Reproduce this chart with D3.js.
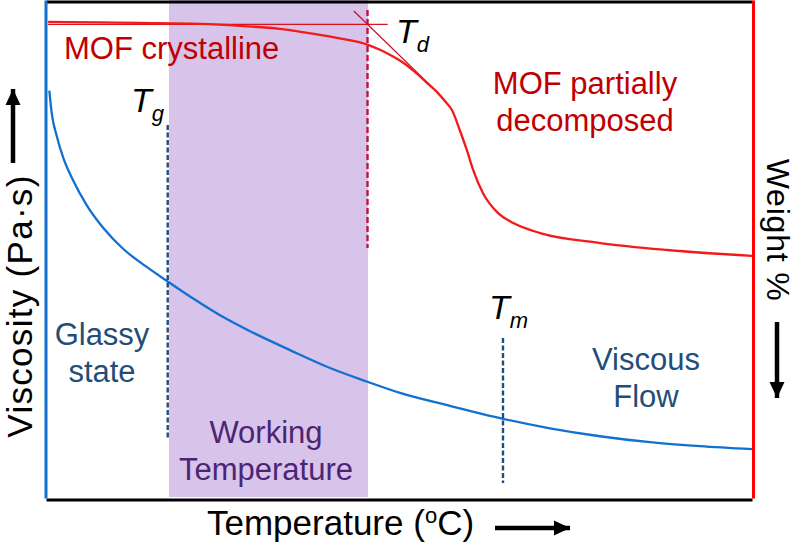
<!DOCTYPE html>
<html>
<head>
<meta charset="utf-8">
<script src="https://cdn.jsdelivr.net/npm/d3@7/dist/d3.min.js"></script>
<style>
  html, body { margin: 0; padding: 0; background: #fff; }
  svg { display: block; }
  text { font-family: "Liberation Sans", Arial, sans-serif; }
</style>
</head>
<body>
<svg id="chart" width="797" height="544"></svg>
<script>
// ---------- data (normalised temperature 0-100) ----------
const viscTemp = [0.47, 0.81, 1.52, 2.45, 3.87, 5.76, 8.12, 10.95, 14.26, 17.32, 20.68, 24.65, 28.9, 34.56, 40.23, 45.61, 50.14, 57.22, 64.73, 71.39, 78.47, 85.55, 92.63, 100];
const viscosity = [81.8, 77.3, 72.7, 68.3, 63.7, 58.8, 54.2, 50.0, 46.4, 43.4, 40.2, 36.7, 33.5, 29.7, 26.1, 23.3, 21.1, 18.5, 15.9, 14.0, 12.4, 11.2, 10.4, 9.8];

const weightTemp = [0.3, 7.7, 13.3, 21.8, 27.5, 33.1, 37.0, 41.6, 45.6, 47.3, 48.7, 50.6, 52.3, 54.0, 55.4, 56.5, 57.5, 58.6, 59.6, 60.5, 61.9, 63.9, 66.2, 70.0, 78.5, 88.0, 100];
const weight = [95.6, 95.5, 95.4, 95.2, 94.8, 94.2, 93.4, 92.3, 91.0, 90.0, 89.0, 87.4, 85.5, 83.3, 81.5, 79.7, 77.9, 73.9, 69.9, 65.9, 61.2, 57.4, 55.2, 53.2, 51.2, 49.8, 48.6];

// characteristic temperatures
const Tg = 17.24, Td = 45.54, Tm = 64.73;
const workingRange = [17.42, 45.61];
// onset construction (tangent lines) for Td
const baselineWeight = 95.1, baselineRange = [0.3, 48.4];
const tangentT = [43.6, 54.7], tangentW = [97.8, 82.5];

// ---------- scales ----------
const svg = d3.select("#chart");
const x = d3.scaleLinear().domain([0, 100]).range([46, 752]);
const yV = d3.scaleLinear().domain([0, 100]).range([498, 0]);
const yW = d3.scaleLinear().domain([0, 100]).range([498, 0]);

const RED = "#f21a1a", BLUE = "#1170d0", DASHBLUE = "#1f4e79";

// working temperature band
svg.append("rect")
  .attr("x", x(workingRange[0])).attr("y", 0)
  .attr("width", x(workingRange[1]) - x(workingRange[0]))
  .attr("height", 497)
  .attr("fill", "#d8c3ea");

// viscosity curve
const vPts = viscTemp.map((t, i) => [t, viscosity[i]]);
svg.append("path")
  .attr("d", d3.line().x(d => x(d[0])).y(d => yV(d[1])).curve(d3.curveMonotoneX)(vPts))
  .attr("fill", "none").attr("stroke", BLUE).attr("stroke-width", 2.3);

// tangent construction lines
svg.append("line")
  .attr("x1", x(baselineRange[0])).attr("x2", x(baselineRange[1]))
  .attr("y1", yW(baselineWeight)).attr("y2", yW(baselineWeight))
  .attr("stroke", "#d8121e").attr("stroke-width", 1.4);
svg.append("line")
  .attr("x1", x(tangentT[0])).attr("x2", x(tangentT[1]))
  .attr("y1", yW(tangentW[0])).attr("y2", yW(tangentW[1]))
  .attr("stroke", "#c8102e").attr("stroke-width", 1.3);

// weight curve
const wPts = weightTemp.map((t, i) => [t, weight[i]]);
svg.append("path")
  .attr("d", d3.line().x(d => x(d[0])).y(d => yW(d[1])).curve(d3.curveMonotoneX)(wPts))
  .attr("fill", "none").attr("stroke", RED).attr("stroke-width", 2.3);

// dashed markers
svg.append("line")
  .attr("x1", x(Tg)).attr("x2", x(Tg)).attr("y1", 125).attr("y2", 440)
  .attr("stroke", DASHBLUE).attr("stroke-width", 2.4).attr("stroke-dasharray", "5,2.5");
svg.append("line")
  .attr("x1", x(Tm)).attr("x2", x(Tm)).attr("y1", 338).attr("y2", 483)
  .attr("stroke", DASHBLUE).attr("stroke-width", 2.4).attr("stroke-dasharray", "5,2.5");
svg.append("line")
  .attr("x1", x(Td)).attr("x2", x(Td)).attr("y1", 10).attr("y2", 248)
  .attr("stroke", "#c0143c").attr("stroke-width", 2.4).attr("stroke-dasharray", "6,3");

// frame via axes (no ticks)
const frame = (gen, tx, ty, color) => {
  const g = svg.append("g").attr("transform", `translate(${tx},${ty})`)
    .call(gen.ticks(0).tickSize(0).tickSizeOuter(0));
  g.select(".domain").attr("stroke", color).attr("stroke-width", 3);
  g.selectAll("text").remove();
};
frame(d3.axisTop(x), 0, 1.5, "#000");
frame(d3.axisBottom(x), 0, 499.5, "#000");
frame(d3.axisLeft(yV), 45.5, 0, BLUE);
frame(d3.axisRight(yW), 753, 0, "#ff0000");

// region labels
const label = (lines, cx, y0, color, anchor) => {
  const t = svg.append("text").attr("fill", color).attr("font-size", 31)
    .attr("text-anchor", anchor || "middle");
  lines.forEach((s, i) => t.append("tspan").attr("x", cx).attr("y", y0 + i * 37).text(s));
};
label(["MOF crystalline"], 64, 59, "#c00000", "start");
label(["MOF partially", "decomposed"], 585, 94, "#c00000");
label(["Glassy", "state"], 102, 345, "#1f4e79");
label(["Working", "Temperature"], 266, 443, "#4b2573");
label(["Viscous", "Flow"], 646, 370, "#1f4e79");

// characteristic temperature labels
const tLabel = (sub, tx, ty) => {
  const t = svg.append("text").attr("x", tx).attr("y", ty)
    .attr("font-size", 34).attr("font-style", "italic").attr("fill", "#000");
  t.append("tspan").text("T");
  t.append("tspan").attr("dy", 8.5).attr("font-size", 22).text(sub);
};
tLabel("g", 131, 112);
tLabel("d", 396, 43);
tLabel("m", 489, 319);

// axis titles
const xt = svg.append("text").attr("x", 207).attr("y", 535).attr("font-size", 35).attr("fill", "#000");
xt.append("tspan").text("Temperature (");
xt.append("tspan").attr("font-size", 22).attr("dy", -12).text("o");
xt.append("tspan").attr("dy", 12).text("C)");

svg.append("text").attr("transform", "translate(32,306) rotate(-90)")
  .attr("text-anchor", "middle").attr("font-size", 35).attr("letter-spacing", 1.3).attr("fill", "#000")
  .text("Viscosity (Pa\u00b7s)");
svg.append("text").attr("transform", "translate(767,230) rotate(90)")
  .attr("text-anchor", "middle").attr("font-size", 32).attr("letter-spacing", 0.8).attr("fill", "#000")
  .text("Weight %");

// arrows
const arrow = (x1, y1, x2, y2) => {
  svg.append("line").attr("x1", x1).attr("y1", y1).attr("x2", x2).attr("y2", y2)
    .attr("stroke", "#000").attr("stroke-width", 4.5);
  const ang = Math.atan2(y2 - y1, x2 - x1), L = 16, W = 7.5;
  const bx = x2 - L * Math.cos(ang), by = y2 - L * Math.sin(ang);
  const px = -Math.sin(ang) * W, py = Math.cos(ang) * W;
  svg.append("path")
    .attr("d", `M${x2},${y2}L${bx + px},${by + py}L${bx - px},${by - py}Z`)
    .attr("fill", "#000");
};
arrow(13, 163, 13, 89);
arrow(777, 322, 777, 398);
arrow(495, 528, 570, 528);
</script>
</body>
</html>
